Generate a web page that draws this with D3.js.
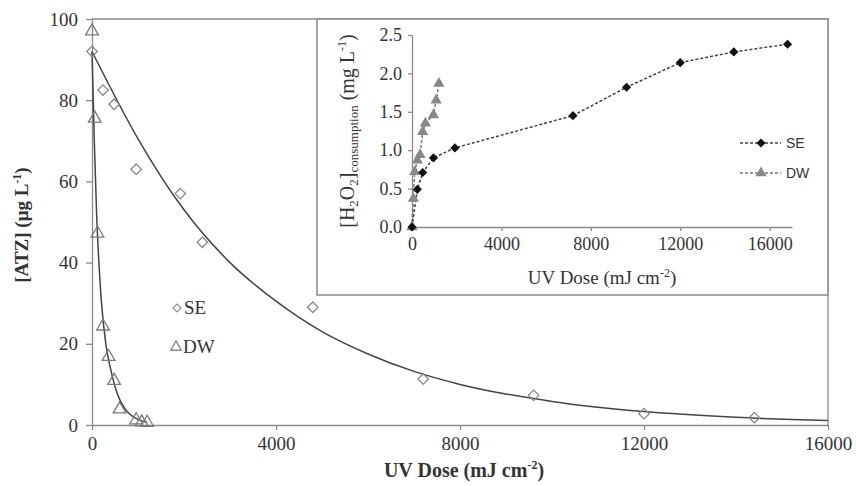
<!DOCTYPE html>
<html>
<head>
<meta charset="utf-8">
<script src="https://cdn.jsdelivr.net/npm/d3@7"></script>
<style>
  body { margin: 0; background: #fff; }
  text { font-family: "Liberation Serif", "Times New Roman", serif; fill: #333; }
  .axis path, .axis line { stroke: #8a8a8a; stroke-width: 1.3; }
  .axis text { font-size: 19px; fill: #333; }
  .inset .axis text { font-size: 18px; }
</style>
</head>
<body>
<div id="chart"></div>
<script>
// main chart: atrazine decay vs UV dose
var seDose = [0, 240, 480, 960, 1920, 2400, 4800, 7200, 9600, 12000, 14400];
var seAtz = [92, 82.5, 79, 63, 57, 45, 29, 11.3, 7.3, 2.8, 1.8];
var dwDose = [0, 60, 120, 240, 360, 480, 600, 960, 1080, 1200];
var dwAtz = [97, 75.5, 47.2, 24.3, 16.8, 10.9, 3.9, 1.2, 0.7, 0.6];

// fitted lines
var seFitDose = [0, 1000, 2000, 3000, 4000, 5000, 6000, 7000, 8000, 10000, 12000, 14000, 16000];
var seFitAtz = [92, 70.5, 53, 40, 30.5, 23, 17.5, 13.2, 10, 5.8, 3.3, 1.9, 1.1];
var dwFitDose = [0, 50, 100, 150, 200, 300, 400, 500, 600, 700, 800, 1000, 1200];
var dwFitAtz = [92, 70, 52, 40, 31, 20, 14, 9.5, 6.3, 4.3, 2.9, 1.4, 0.6];

// inset: H2O2 consumption
var seDoseInset = [0, 240, 480, 960, 1920, 7200, 9600, 12000, 14400, 16800];
var seH2o2 = [0, 0.49, 0.71, 0.9, 1.03, 1.45, 1.82, 2.14, 2.28, 2.38];
var dwDoseInset = [0, 60, 120, 240, 360, 480, 600, 960, 1080, 1200];
var dwH2o2 = [0, 0.37, 0.72, 0.87, 0.94, 1.24, 1.35, 1.46, 1.65, 1.87];

var xTicks = [0, 4000, 8000, 12000, 16000];
var yTicks = [0, 20, 40, 60, 80, 100];
var yTicksInset = [0, 0.5, 1.0, 1.5, 2.0, 2.5];

var width = 856, height = 486;

var svg = d3.select("#chart").append("svg")
    .attr("width", width)
    .attr("height", height);

var x = d3.scaleLinear().domain([0, 16000]).range([92, 828]);
var y = d3.scaleLinear().domain([0, 100]).range([425, 19]);

// plot area frame (top + right)
svg.append("path")
    .attr("d", "M" + x(0) + "," + y(100) + "H" + x(16000) + "V" + y(0))
    .attr("fill", "none")
    .attr("stroke", "#8a8a8a")
    .attr("stroke-width", 1.3);

svg.append("g")
    .attr("class", "axis")
    .attr("transform", "translate(0," + y(0) + ")")
    .call(d3.axisBottom(x).tickValues(xTicks).tickFormat(d3.format("d")).tickSizeInner(5).tickSizeOuter(0).tickPadding(7));

svg.append("g")
    .attr("class", "axis")
    .attr("transform", "translate(" + x(0) + ",0)")
    .call(d3.axisLeft(y).tickValues(yTicks).tickSizeInner(6).tickSizeOuter(0).tickPadding(8));

var line = d3.line()
    .x(function(d) { return x(d[0]); })
    .y(function(d) { return y(d[1]); })
    .curve(d3.curveMonotoneX);

svg.append("path")
    .datum(d3.zip(seFitDose, seFitAtz))
    .attr("d", line)
    .attr("fill", "none")
    .attr("stroke", "#444")
    .attr("stroke-width", 1.5);

svg.append("path")
    .datum(d3.zip(dwFitDose, dwFitAtz))
    .attr("d", line)
    .attr("fill", "none")
    .attr("stroke", "#444")
    .attr("stroke-width", 1.5);

var diamond = d3.symbol().type(d3.symbolSquare).size(55);
var triangle = d3.symbol().type(d3.symbolTriangle).size(70);

svg.selectAll(".seMark")
    .data(d3.zip(seDose, seAtz))
  .enter().append("path")
    .attr("class", "seMark")
    .attr("d", diamond)
    .attr("transform", function(d) { return "translate(" + x(d[0]) + "," + y(d[1]) + ") rotate(45)"; })
    .attr("fill", "none")
    .attr("stroke", "#8a8a8a")
    .attr("stroke-width", 1.3);

svg.selectAll(".dwMark")
    .data(d3.zip(dwDose, dwAtz))
  .enter().append("path")
    .attr("class", "dwMark")
    .attr("d", triangle)
    .attr("transform", function(d) { return "translate(" + x(d[0]) + "," + y(d[1]) + ")"; })
    .attr("fill", "none")
    .attr("stroke", "#7a7a7a")
    .attr("stroke-width", 1.3);

// main legend
svg.append("path")
    .attr("d", d3.symbol().type(d3.symbolSquare).size(32))
    .attr("transform", "translate(177,308) rotate(45)")
    .attr("fill", "none").attr("stroke", "#8a8a8a").attr("stroke-width", 1.2);
svg.append("text").attr("x", 184).attr("y", 314).attr("font-size", 19).attr("fill", "#555").text("SE");
svg.append("path")
    .attr("d", d3.symbol().type(d3.symbolTriangle).size(48))
    .attr("transform", "translate(176,347)")
    .attr("fill", "none").attr("stroke", "#7a7a7a").attr("stroke-width", 1.2);
svg.append("text").attr("x", 183).attr("y", 353).attr("font-size", 19).attr("fill", "#555").text("DW");

// axis titles
var xt = svg.append("text")
    .attr("x", 464).attr("y", 477)
    .attr("text-anchor", "middle")
    .attr("font-size", 20).attr("font-weight", "bold");
xt.append("tspan").text("UV Dose (mJ cm");
xt.append("tspan").attr("font-size", 12).attr("dy", -8).text("-2");
xt.append("tspan").attr("dy", 8).text(")");

var yt = svg.append("text")
    .attr("transform", "translate(28,225) rotate(-90)")
    .attr("text-anchor", "middle")
    .attr("font-size", 19).attr("font-weight", "bold");
yt.append("tspan").text("[ATZ] (\u03bcg L");
yt.append("tspan").attr("font-size", 12).attr("dy", -7).text("-1");
yt.append("tspan").attr("dy", 7).text(")");

// ---- inset ----
var inset = svg.append("g").attr("class", "inset");

inset.append("rect")
    .attr("x", 317).attr("y", 19)
    .attr("width", 828 - 317).attr("height", 295 - 19)
    .attr("fill", "#fff")
    .attr("stroke", "#8a8a8a")
    .attr("stroke-width", 1.5);

var xi = d3.scaleLinear().domain([0, 17000]).range([412, 792]);
var yi = d3.scaleLinear().domain([0, 2.5]).range([227, 35]);

inset.append("g")
    .attr("class", "axis")
    .attr("transform", "translate(0," + yi(0) + ")")
    .call(d3.axisBottom(xi).tickValues(xTicks).tickFormat(d3.format("d")).tickSizeInner(4).tickSizeOuter(0).tickPadding(6));

inset.append("g")
    .attr("class", "axis")
    .attr("transform", "translate(" + xi(0) + ",0)")
    .call(d3.axisLeft(yi).tickValues(yTicksInset).tickFormat(d3.format(".1f")).tickSizeInner(4).tickSizeOuter(0).tickPadding(6));

var lineInset = d3.line()
    .x(function(d) { return xi(d[0]); })
    .y(function(d) { return yi(d[1]); });

inset.append("path")
    .datum(d3.zip(dwDoseInset, dwH2o2))
    .attr("d", lineInset)
    .attr("fill", "none")
    .attr("stroke", "#777")
    .attr("stroke-width", 1.5)
    .attr("stroke-dasharray", "3,2");

inset.append("path")
    .datum(d3.zip(seDoseInset, seH2o2))
    .attr("d", lineInset)
    .attr("fill", "none")
    .attr("stroke", "#444")
    .attr("stroke-width", 1.5)
    .attr("stroke-dasharray", "3,2");

var diamondFill = d3.symbol().type(d3.symbolSquare).size(42);
var triangleFill = d3.symbol().type(d3.symbolTriangle).size(55);

inset.selectAll(".dwFill")
    .data(d3.zip(dwDoseInset, dwH2o2))
  .enter().append("path")
    .attr("class", "dwFill")
    .attr("d", triangleFill)
    .attr("transform", function(d) { return "translate(" + xi(d[0]) + "," + yi(d[1]) + ")"; })
    .attr("fill", "#888");

inset.selectAll(".seFill")
    .data(d3.zip(seDoseInset, seH2o2))
  .enter().append("path")
    .attr("class", "seFill")
    .attr("d", diamondFill)
    .attr("transform", function(d) { return "translate(" + xi(d[0]) + "," + yi(d[1]) + ") rotate(45)"; })
    .attr("fill", "#111");

// inset legend
var legend = [
  {name: "SE", y: 143, color: "#111", dash: "#444", shape: "d"},
  {name: "DW", y: 173, color: "#888", dash: "#777", shape: "t"}
];
legend.forEach(function(l) {
  inset.append("line")
    .attr("x1", 740).attr("x2", 781).attr("y1", l.y).attr("y2", l.y)
    .attr("stroke", l.dash).attr("stroke-width", 1.5).attr("stroke-dasharray", "3,2");
  inset.append("path")
    .attr("d", l.shape == "d" ? diamondFill : triangleFill)
    .attr("transform", "translate(761," + l.y + ")" + (l.shape == "d" ? " rotate(45)" : ""))
    .attr("fill", l.color);
  inset.append("text")
    .attr("x", 786).attr("y", l.y + 5)
    .attr("font-size", 14)
    .style("font-family", "'Liberation Sans', Arial, sans-serif")
    .attr("fill", "#444")
    .text(l.name);
});

var xti = inset.append("text")
    .attr("x", 602).attr("y", 284)
    .attr("text-anchor", "middle")
    .attr("font-size", 19);
xti.append("tspan").text("UV Dose (mJ cm");
xti.append("tspan").attr("font-size", 12).attr("dy", -7).text("-2");
xti.append("tspan").attr("dy", 7).text(")");

var yti = inset.append("text")
    .attr("transform", "translate(354,131) rotate(-90)")
    .attr("text-anchor", "middle")
    .attr("font-size", 20);
yti.append("tspan").text("[H");
yti.append("tspan").attr("font-size", 13).attr("dy", 4).text("2");
yti.append("tspan").attr("dy", -4).text("O");
yti.append("tspan").attr("font-size", 13).attr("dy", 4).text("2");
yti.append("tspan").attr("dy", -4).text("]");
yti.append("tspan").attr("font-size", 13).attr("dy", 4).text("consumption");
yti.append("tspan").attr("dy", -4).text(" (mg L");
yti.append("tspan").attr("font-size", 12).attr("dy", -8).text("-1");
yti.append("tspan").attr("dy", 8).text(")");
</script>
</body>
</html>
